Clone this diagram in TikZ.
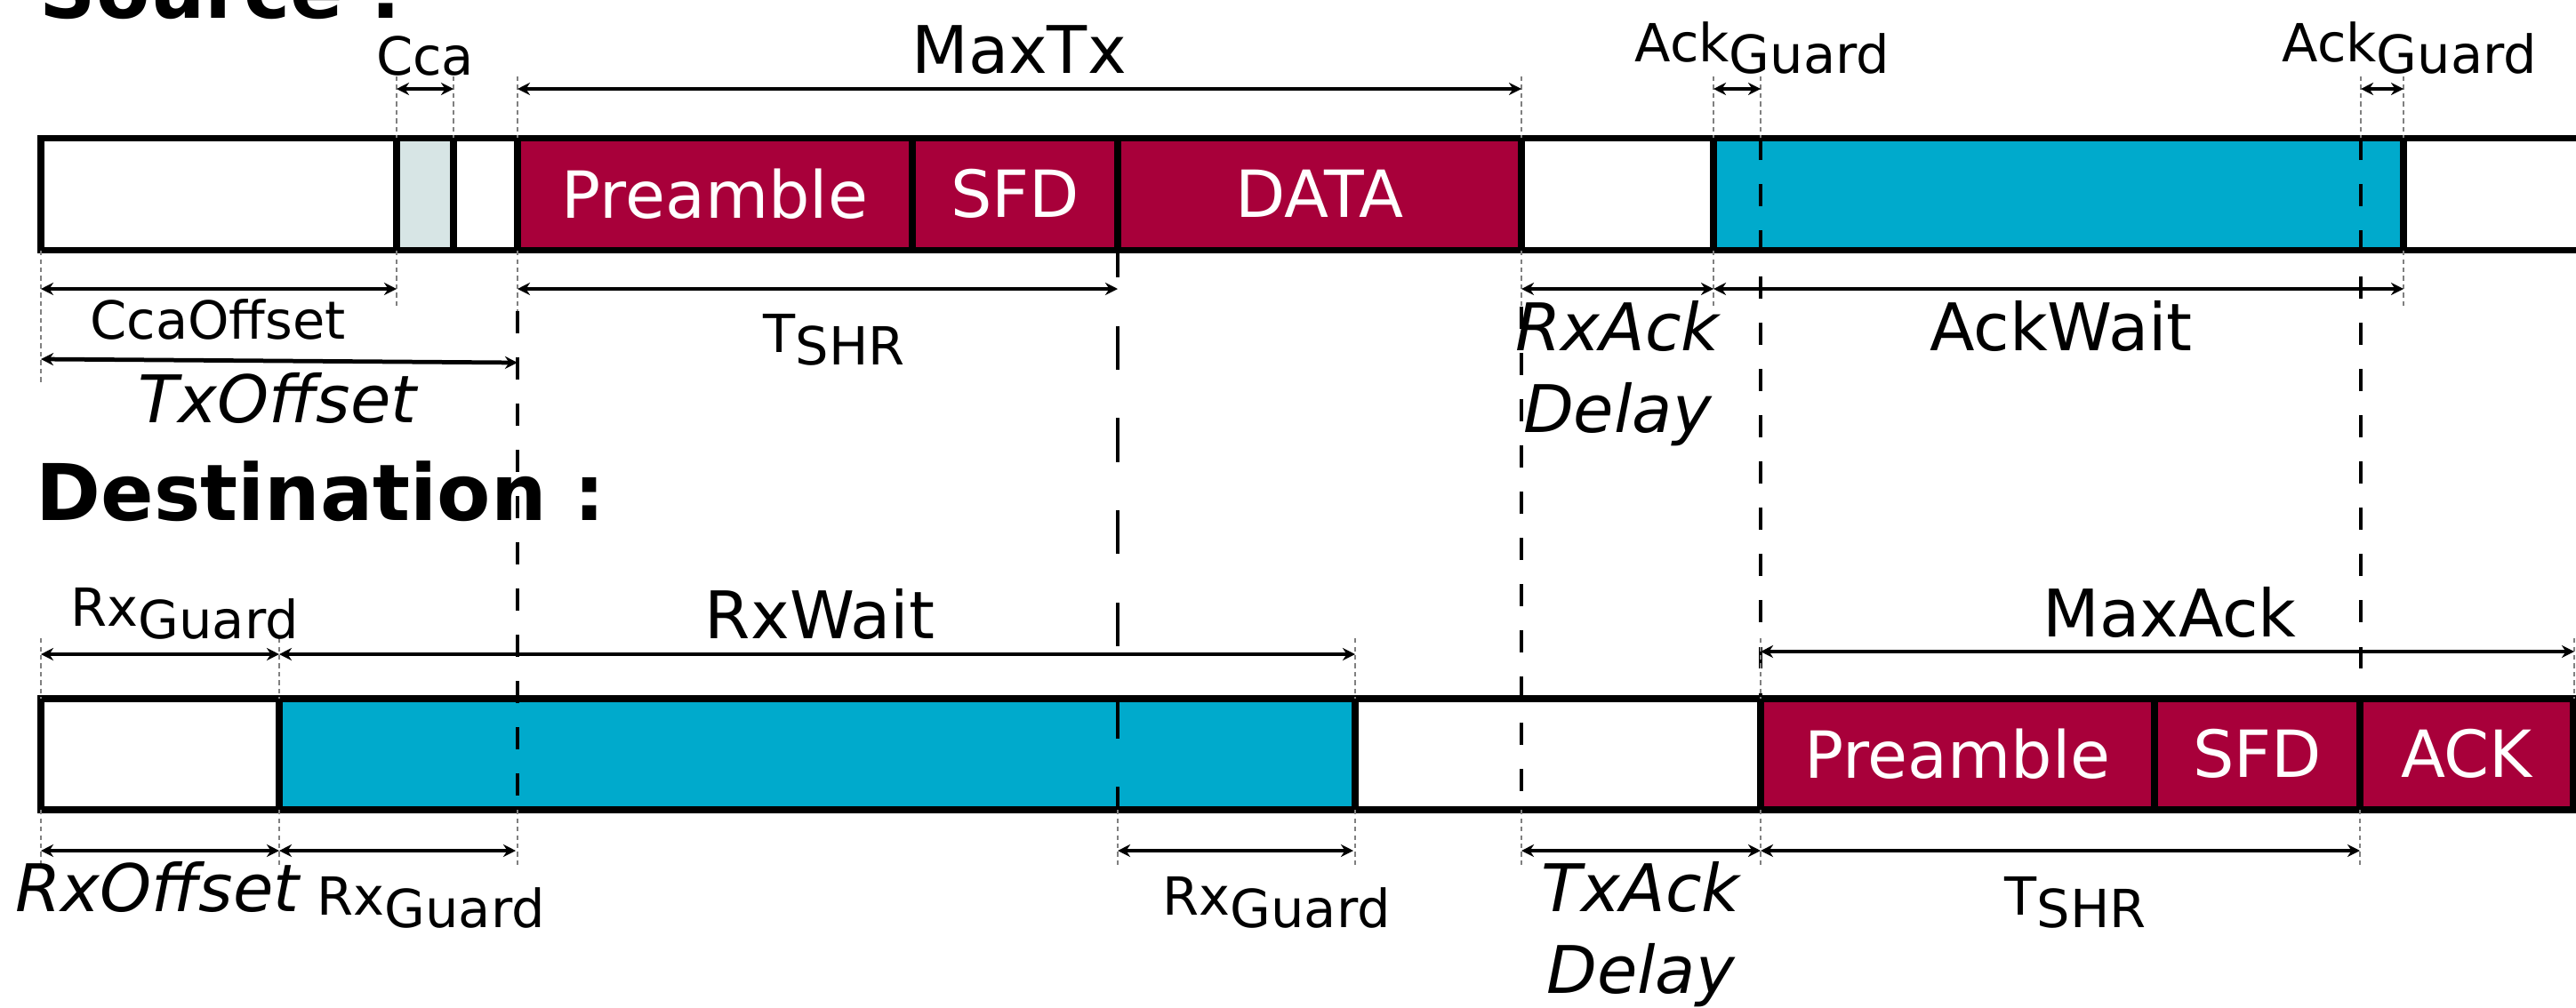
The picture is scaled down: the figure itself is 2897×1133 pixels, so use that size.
\documentclass[tikz,border=0pt]{standalone}
\usepackage{fontspec}
\setmainfont{DejaVu Sans}
\usepackage{tkz-euclide}
\usetikzlibrary{arrows.meta}
\definecolor{packet}{HTML}{A8003A}
\definecolor{listen}{HTML}{00AACC}
\definecolor{ccafill}{HTML}{D7E5E5}

\begin{document}
\begin{tikzpicture}[x=0.01cm,y=-0.01cm,
    seg/.style={line width=2.1pt},
    dimarrow/.style={{Stealth[length=4pt,width=4pt]}-{Stealth[length=4pt,width=4pt]},line width=1.35pt},
    guideline/.style={gray,line width=0.7pt,dash pattern=on 1.5pt off 1.2pt},
    cutline/.style={line width=0.9pt,dash pattern=on 7pt off 7.8pt},
    cutbold/.style={line width=1.4pt,dash pattern=on 14pt off 15.5pt},
    pkttext/.style={text=white,font=\fontsize{20.8}{24}\selectfont,inner sep=0pt},
    biglabel/.style={font=\fontsize{21}{24}\selectfont,inner sep=0pt,anchor=base},
    smalllabel/.style={font=\fontsize{16.8}{19}\selectfont,inner sep=0pt,anchor=base},
    itlabel/.style={font=\fontsize{21}{26}\selectfont\itshape,inner sep=0pt},
    headlabel/.style={font=\fontsize{25}{29}\selectfont\bfseries,inner sep=0pt,anchor=base west}]
    \useasboundingbox (0,0) rectangle (2897,1133);
    \tkzDefPoints{446/100/ca1, 510/100/ca2, 582/100/mt1, 1711/100/mt2,
                  1927/100/ag1, 1980/100/ag2, 2655/100/ag3, 2703/100/ag4,
                  46/325/co1, 446/325/co2, 582/325/ts1, 1257/325/ts2,
                  1711/325/rd1, 1927/325/rd2, 2703/325/aw2,
                  46/404/to1, 582/408/to2}
    \tkzDefPoints{46/736/rg1, 314/736/rg2, 1524/736/rw2, 1980/733/ma1, 2895/733/ma2,
                  46/957/ro1, 314/957/ro2, 580/957/rg3, 1257/957/rg4, 1522/957/rg5,
                  1711/957/td1, 1980/957/td2, 2654/957/tr2}
    % source
    \draw[seg] (46,155.5) rectangle (2930,281.5);
    \filldraw[seg,fill=ccafill] (446,155.5) rectangle (510,281.5);
    \filldraw[seg,fill=listen] (1927,155.5) rectangle (2703,281.5);
    \foreach \a/\b/\t/\n in {582/1026/Preamble/spre, 1026/1257/SFD/ssfd, 1257/1711/DATA/sdata}{
        \filldraw[seg,fill=packet] (\a,155.5) rectangle (\b,281.5);
        \node[pkttext] (\n) at ({(\a+\b)/2},218) {\t};
    }
    % destination
    \draw[seg] (46,786) rectangle (1980,911);
    \filldraw[seg,fill=listen] (314,786) rectangle (1524,911);
    \foreach \a/\b/\t/\n in {1980/2423/Preamble/dpre, 2423/2654/SFD/dsfd, 2654/2894/ACK/dack}{
        \filldraw[seg,fill=packet] (\a,786) rectangle (\b,911);
        \node[pkttext] (\n) at ({(\a+\b)/2},848) {\t};
    }
    \foreach \x/\a/\b in {582/350/911, 1711/345/911, 1980/155/786, 2655/155/754}
        \draw[cutline] (\x,\a) -- (\x,\b);
    \draw[cutbold] (1257,263) -- (1257,911);
    \foreach \x in {446,510,582,1711,1927,1980,2655,2703}
        \draw[guideline] (\x,86) -- (\x,155);
    \foreach \x/\b in {46/432,446/348,582/350,1711/345,1927/345,2703/345}
        \draw[guideline] (\x,282) -- (\x,\b);
    \foreach \x in {46,314,1524,1980,2895}
        \draw[guideline] (\x,718) -- (\x,786);
    \foreach \x in {46,314,582,1257,1524,1711,1980,2654}
        \draw[guideline] (\x,911) -- (\x,976);
    \tkzDrawSegments[dimarrow](ca1,ca2 mt1,mt2 ag1,ag2 ag3,ag4 co1,co2 ts1,ts2 rd1,rd2 rd2,aw2 to1,to2)
    \tkzDrawSegments[dimarrow](rg1,rg2 rg2,rw2 ma1,ma2 ro1,ro2 ro2,rg3 rg4,rg5 td1,td2 td2,tr2)
    \node[headlabel] (src) at (44,20) {Source :};
    \node[headlabel] (dst) at (40,585) {Destination :};
    \node[smalllabel] (cca) at (478,84) {Cca};
    \node[biglabel] (maxtx) at (1146,82) {MaxTx};
    \node[smalllabel,anchor=base west] (ackg1) at (1838,69) {Ack\raisebox{-3.7pt}{Guard}};
    \node[smalllabel,anchor=base west] (ackg2) at (2566,69) {Ack\raisebox{-3.7pt}{Guard}};
    \node[smalllabel] (ccaoff) at (245,381) {CcaOffset};
    \node[smalllabel,anchor=base west] (tshr1) at (858,396) {T\raisebox{-4pt}{SHR}};
    \node[itlabel,anchor=base] (txoff) at (312,475) {TxOffset};
    \node[itlabel,align=center,anchor=north] (rxack) at (1819,338) {RxAck\\Delay};
    \node[biglabel] (ackwait) at (2318,394) {AckWait};
    \node[smalllabel,anchor=base west] (rxg1) at (79,704) {Rx\raisebox{-4pt}{Guard}};
    \node[biglabel] (rxwait) at (922,718) {RxWait};
    \node[biglabel] (maxack) at (2440,716) {MaxAck};
    \node[itlabel,anchor=base] (rxoff) at (177,1025) {RxOffset};
    \node[smalllabel,anchor=base west] (rxg2) at (356,1029) {Rx\raisebox{-4pt}{Guard}};
    \node[smalllabel,anchor=base west] (rxg3) at (1307,1029) {Rx\raisebox{-4pt}{Guard}};
    \node[itlabel,align=center,anchor=north] (txack) at (1845,969) {TxAck\\Delay};
    \node[smalllabel,anchor=base west] (tshr2) at (2254,1029) {T\raisebox{-4pt}{SHR}};
\end{tikzpicture}
\end{document}
